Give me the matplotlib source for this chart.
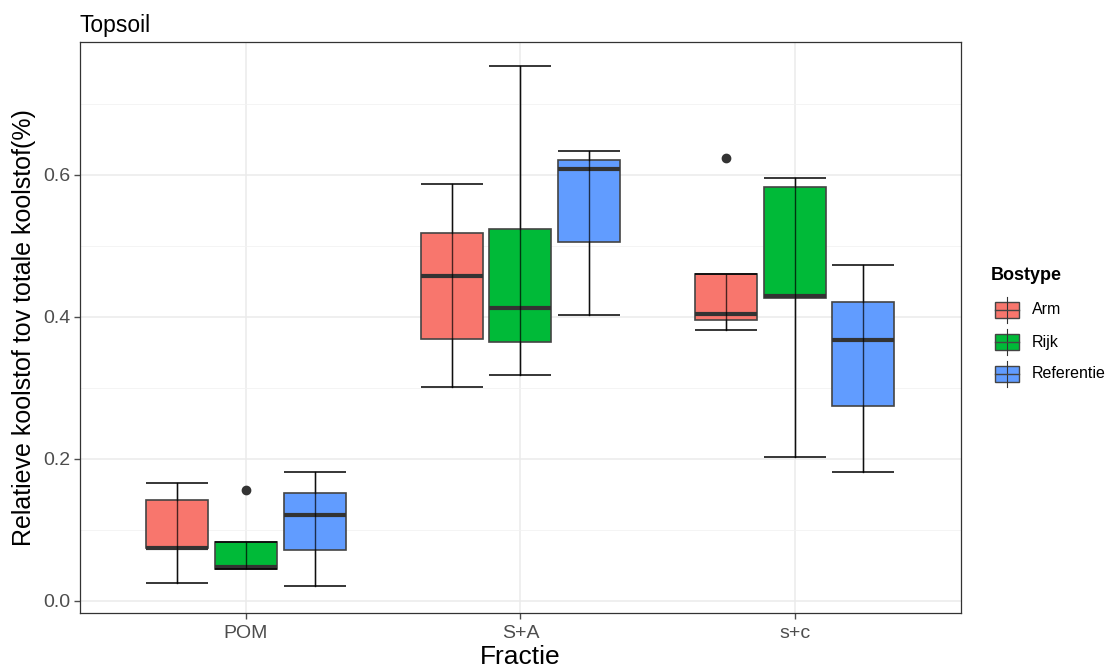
import matplotlib.pyplot as plt
from matplotlib.patches import Rectangle
from matplotlib.lines import Line2D

plt.rcParams['font.family'] = ['Liberation Sans', 'DejaVu Sans']

# Box statistics per fraction (POM, S+A, s+c) for each forest type
fracties = ['POM', 'S+A', 's+c']
bostypes = ['Arm', 'Rijk', 'Referentie']
colors = ['#F8766D', '#00BA38', '#619CFF']

whislo = {'Arm': [0.025, 0.301, 0.382],
          'Rijk': [0.045, 0.318, 0.202],
          'Referentie': [0.021, 0.402, 0.181]}
q1 = {'Arm': [0.074, 0.369, 0.396],
      'Rijk': [0.045, 0.365, 0.427],
      'Referentie': [0.072, 0.505, 0.275]}
med = {'Arm': [0.075, 0.458, 0.404],
       'Rijk': [0.048, 0.412, 0.429],
       'Referentie': [0.121, 0.608, 0.367]}
q3 = {'Arm': [0.142, 0.518, 0.461],
      'Rijk': [0.083, 0.523, 0.583],
      'Referentie': [0.152, 0.621, 0.421]}
whishi = {'Arm': [0.166, 0.587, 0.461],
          'Rijk': [0.083, 0.753, 0.595],
          'Referentie': [0.182, 0.634, 0.473]}
fliers = {'Arm': [[], [], [0.623]],
          'Rijk': [[0.156], [], []],
          'Referentie': [[], [], []]}

fig = plt.figure(figsize=(11.08, 6.72), dpi=100)
ax = fig.add_axes([0.0722, 0.0878, 0.795, 0.8497])

dodge = 0.25
box_w = 0.226
for i, bt in enumerate(bostypes):
    pos = [k + 1 + (i - 1) * dodge for k in range(len(fracties))]
    stats = []
    for k in range(len(fracties)):
        stats.append(dict(whislo=whislo[bt][k], q1=q1[bt][k], med=med[bt][k],
                          q3=q3[bt][k], whishi=whishi[bt][k], fliers=fliers[bt][k]))
    ax.bxp(stats, positions=pos, widths=box_w, patch_artist=True,
           showcaps=False, manage_ticks=False,
           boxprops=dict(facecolor=colors[i], edgecolor='#444444', linewidth=1.2),
           medianprops=dict(color='#333333', linewidth=3),
           whiskerprops=dict(color='#333333', linewidth=1),
           flierprops=dict(marker='o', markerfacecolor='#333333',
                           markeredgecolor='#333333', markersize=6))
    # error-bar style whisker line through the box, with wide caps
    ax.vlines(pos, whislo[bt], whishi[bt], color='black', linewidth=1, alpha=0.7, zorder=4)
    ax.hlines(whislo[bt], [p - box_w / 2 for p in pos], [p + box_w / 2 for p in pos],
              color='black', linewidth=1.1, zorder=4)
    ax.hlines(whishi[bt], [p - box_w / 2 for p in pos], [p + box_w / 2 for p in pos],
              color='black', linewidth=1.1, zorder=4)

ax.set_xlim(0.395, 3.605)
ax.set_ylim(-0.017, 0.787)
ax.set_xticks([1, 2, 3])
ax.set_xticklabels(fracties)
ax.set_yticks([0.0, 0.2, 0.4, 0.6])
ax.set_yticklabels(['0.0', '0.2', '0.4', '0.6'])
ax.set_yticks([0.1, 0.3, 0.5, 0.7], minor=True)
ax.grid(True, which='major', color='#EBEBEB', linewidth=1.1, zorder=0)
ax.grid(True, which='minor', axis='y', color='#F2F2F2', linewidth=0.6, zorder=0)
ax.set_axisbelow(True)
ax.tick_params(axis='both', which='major', labelsize=14, colors='#4D4D4D',
               length=4, width=1, pad=3)
ax.tick_params(axis='x', which='major', pad=5)
ax.tick_params(axis='y', which='minor', length=0)
for sp in ax.spines.values():
    sp.set_color('#333333')
    sp.set_linewidth(0.9)

ax.set_xlabel('Fractie', fontsize=19, labelpad=2)
ax.set_ylabel('Relatieve koolstof tov totale koolstof(%)', fontsize=18, labelpad=5)
ax.set_title('Topsoil', fontsize=16.5, loc='left', pad=7)

# Legend with boxplot-style keys
fig.text(991 / 1108, 1 - 276 / 672, 'Bostype', fontsize=13, fontweight='bold',
         va='center', ha='left')
W, H = 1108, 672
for i, bt in enumerate(bostypes):
    yc = 310 + i * 32
    fig.add_artist(Line2D([1007 / W, 1007 / W], [1 - (yc - 13) / H, 1 - (yc + 13) / H],
                          color='#333333', linewidth=0.8))
    fig.add_artist(Rectangle((995 / W, 1 - (yc + 8) / H), 24 / W, 16 / H,
                             facecolor=colors[i], edgecolor='#444444', linewidth=1))
    fig.add_artist(Line2D([995 / W, 1019 / W], [1 - yc / H, 1 - yc / H],
                          color='#444444', linewidth=1))
    fig.text(1032 / W, 1 - yc / H, bt, fontsize=11.5, va='center', ha='left')

fig.savefig('out.png', dpi=100)
